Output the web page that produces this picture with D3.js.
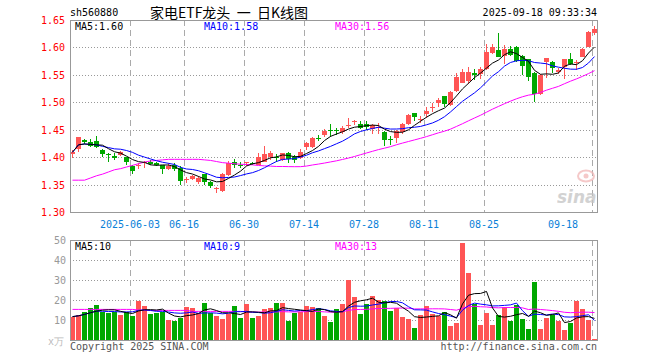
<!DOCTYPE html>
<html>
<head>
<meta charset="utf-8">
<script src="https://cdn.jsdelivr.net/npm/d3@7"></script>
<style>
  body { margin: 0; background: #fff; }
  text { font-family: "DejaVu Sans Mono", monospace; }
</style>
</head>
<body>
<div id="chart"></div>
<script>
// trading days shown on the chart
var dates = [
  "2025-05-19","2025-05-20","2025-05-21","2025-05-22","2025-05-23","2025-05-26","2025-05-27","2025-05-28","2025-05-29","2025-05-30",
  "2025-06-03","2025-06-04","2025-06-05","2025-06-06","2025-06-09","2025-06-10","2025-06-11","2025-06-12","2025-06-13","2025-06-16",
  "2025-06-17","2025-06-18","2025-06-19","2025-06-20","2025-06-23","2025-06-24","2025-06-25","2025-06-26","2025-06-27","2025-06-30",
  "2025-07-01","2025-07-02","2025-07-03","2025-07-04","2025-07-07","2025-07-08","2025-07-09","2025-07-10","2025-07-11","2025-07-14",
  "2025-07-15","2025-07-16","2025-07-17","2025-07-18","2025-07-21","2025-07-22","2025-07-23","2025-07-24","2025-07-25","2025-07-28",
  "2025-07-29","2025-07-30","2025-07-31","2025-08-01","2025-08-04","2025-08-05","2025-08-06","2025-08-07","2025-08-08","2025-08-11",
  "2025-08-12","2025-08-13","2025-08-14","2025-08-15","2025-08-18","2025-08-19","2025-08-20","2025-08-21","2025-08-22","2025-08-25",
  "2025-08-26","2025-08-27","2025-08-28","2025-08-29","2025-09-01","2025-09-02","2025-09-03","2025-09-04","2025-09-05","2025-09-08",
  "2025-09-09","2025-09-10","2025-09-11","2025-09-12","2025-09-15","2025-09-16","2025-09-17","2025-09-18"
];

var open = [
  1.406,1.414,1.432,1.428,1.430,1.413,1.406,1.402,1.404,1.400,
  1.384,1.383,1.389,1.392,1.390,1.385,1.378,1.386,1.381,1.359,
  1.360,1.355,1.369,1.355,1.342,1.339,1.367,1.391,1.386,1.389,
  1.390,1.386,1.392,1.401,1.401,1.395,1.407,1.401,1.398,1.418,
  1.419,1.435,1.440,1.449,1.449,1.446,1.458,1.464,1.460,1.460,
  1.451,1.454,1.446,1.433,1.434,1.445,1.460,1.480,1.467,1.479,
  1.491,1.498,1.511,1.495,1.521,1.535,1.538,1.554,1.551,1.560,
  1.590,1.595,1.584,1.598,1.601,1.584,1.578,1.553,1.515,1.574,
  1.574,1.556,1.565,1.578,1.572,1.583,1.601,1.626
];
var high = [
  1.413,1.437,1.433,1.433,1.439,1.414,1.407,1.407,1.411,1.401,
  1.385,1.389,1.393,1.394,1.391,1.386,1.389,1.389,1.383,1.364,
  1.368,1.366,1.370,1.356,1.346,1.371,1.393,1.396,1.392,1.392,
  1.392,1.407,1.420,1.412,1.406,1.408,1.410,1.403,1.414,1.428,
  1.436,1.440,1.452,1.460,1.454,1.456,1.471,1.468,1.465,1.465,
  1.460,1.463,1.447,1.439,1.449,1.462,1.479,1.481,1.475,1.491,
  1.498,1.507,1.512,1.521,1.553,1.560,1.564,1.560,1.565,1.606,
  1.606,1.626,1.604,1.603,1.603,1.586,1.579,1.555,1.551,1.581,
  1.575,1.562,1.579,1.589,1.577,1.599,1.630,1.639
];
var low = [
  1.398,1.410,1.424,1.419,1.416,1.400,1.392,1.394,1.402,1.386,
  1.370,1.378,1.380,1.385,1.383,1.369,1.377,1.375,1.350,1.353,
  1.358,1.351,1.350,1.344,1.334,1.337,1.366,1.381,1.380,1.383,
  1.386,1.385,1.391,1.395,1.392,1.393,1.390,1.390,1.396,1.413,
  1.417,1.430,1.437,1.437,1.440,1.442,1.453,1.459,1.452,1.450,
  1.443,1.442,1.420,1.422,1.426,1.443,1.459,1.466,1.462,1.471,
  1.483,1.492,1.491,1.493,1.519,1.536,1.533,1.541,1.542,1.559,
  1.588,1.582,1.570,1.584,1.574,1.550,1.539,1.500,1.513,1.544,
  1.553,1.551,1.542,1.568,1.559,1.582,1.600,1.623
];
var close = [
  1.409,1.436,1.427,1.421,1.419,1.406,1.404,1.399,1.409,1.391,
  1.375,1.385,1.392,1.387,1.386,1.379,1.384,1.378,1.357,1.361,
  1.366,1.362,1.355,1.348,1.344,1.369,1.390,1.386,1.383,1.391,
  1.389,1.401,1.406,1.407,1.399,1.407,1.396,1.395,1.410,1.425,
  1.434,1.434,1.448,1.448,1.447,1.454,1.459,1.465,1.454,1.455,
  1.459,1.455,1.432,1.432,1.448,1.460,1.477,1.473,1.469,1.485,
  1.492,1.504,1.497,1.519,1.546,1.556,1.555,1.549,1.560,1.592,
  1.601,1.583,1.598,1.586,1.576,1.566,1.547,1.516,1.550,1.580,
  1.562,1.559,1.578,1.570,1.574,1.598,1.629,1.633
];

// volume, in 万
var volume = [
  11.7,12.5,14.2,16.2,17.5,14.2,13.3,14.2,12.5,14.2,
  12.0,19.7,17.0,13.0,13.3,14.2,9.8,9.7,10.8,16.3,
  16.0,13.3,18.7,13.7,12.0,10.5,13.0,17.0,11.2,18.0,
  11.2,12.0,15.5,16.0,18.7,18.7,9.7,13.7,14.2,17.0,
  16.7,16.0,12.0,9.2,15.5,18.0,30.0,21.5,13.0,18.0,
  22.0,20.0,19.7,14.5,15.8,11.5,10.5,6.0,12.5,17.0,
  13.0,12.0,14.0,7.0,8.5,48.7,33.7,18.0,7.5,13.5,
  7.5,12.5,16.3,9.5,17.5,10.5,5.5,29.2,5.5,11.0,
  12.5,9.5,5.0,8.3,19.7,15.5,10.0,0.5
];

// MA30 for the first 29 days (window starts before the chart)
var ma30Head = [
  1.358,1.358,1.358,1.362,1.366,1.369,1.373,1.377,1.379,1.382,
  1.385,1.388,1.391,1.393,1.394,1.395,1.396,1.396,1.396,1.396,
  1.396,1.396,1.395,1.394,1.392,1.390,1.389,1.388,1.387
];
var volMa30Head = [
  15.3,15.3,15.3,15.3,15.3,15.3,15.3,15.3,15.3,15.3,
  15.3,15.0,14.8,14.8,14.8,14.8,14.8,14.8,14.8,14.8,
  14.3,14.3,14.3,14.3,14.3,14.3,14.3,14.3,14.3
];

var priceTicks = [1.30, 1.35, 1.40, 1.45, 1.50, 1.55, 1.60, 1.65];
var volTicks = [10, 20, 30, 40, 50];
var dateTicks = ["2025-06-03","2025-06-16","2025-06-30","2025-07-14","2025-07-28","2025-08-11","2025-08-25","2025-09-18"];
var dateTickLabels = ["2025-06-03","06-16","06-30","07-14","07-28","08-11","08-25","09-18"];

var RED = "#ff5555";
var GREEN = "#00a800";

//svg size
var svgWidth = 660;
var svgHeight = 360;

var left = 70, right = 598;
var priceTop = 20, priceBottom = 212;
var volTop = 240, volBottom = 340;

var svg = d3.select("#chart")
  .append("svg")
  .attr("width", svgWidth)
  .attr("height", svgHeight);

svg.append("rect").attr("width", svgWidth).attr("height", svgHeight).attr("fill", "#fff");

// scales
var xScale = d3.scaleBand().domain(dates).range([left, right]);
var yPrice = d3.scaleLinear().domain([1.30, 1.65]).range([priceBottom, priceTop]);
var yVol = d3.scaleLinear().domain([0, 50]).range([volBottom, volTop]);

var idx = d3.range(dates.length);

function movingAvg(values, n, head) {
  return values.map(function(v, i) {
    if (i < n - 1) return head ? head[i] : d3.mean(values.slice(0, i + 1));
    return d3.mean(values.slice(i - n + 1, i + 1));
  });
}

var ma5 = movingAvg(close, 5);
var ma10 = movingAvg(close, 10);
var ma30 = movingAvg(close, 30, ma30Head);
var vma5 = movingAvg(volume, 5);
var vma10 = movingAvg(volume, 10);
var vma30 = movingAvg(volume, 30, volMa30Head);

// horizontal dotted grid
svg.append("g").selectAll("line")
  .data(priceTicks.slice(1, -1))
  .enter().append("line")
  .attr("x1", left).attr("x2", right)
  .attr("y1", d => Math.round(yPrice(d)) + 0.5)
  .attr("y2", d => Math.round(yPrice(d)) + 0.5)
  .attr("stroke", "#999")
  .attr("stroke-dasharray", "1,2");

svg.append("g").selectAll("line")
  .data(volTicks.slice(0, -1))
  .enter().append("line")
  .attr("x1", left).attr("x2", right)
  .attr("y1", d => Math.round(yVol(d)) + 0.5)
  .attr("y2", d => Math.round(yVol(d)) + 0.5)
  .attr("stroke", "#999")
  .attr("stroke-dasharray", "1,2");

// vertical dashed grid at the labelled dates
[[priceTop, priceBottom], [volTop, volBottom]].forEach(function(r) {
  svg.append("g").selectAll("line")
    .data(dateTicks)
    .enter().append("line")
    .attr("x1", d => xScale(d) + 0.5).attr("x2", d => xScale(d) + 0.5)
    .attr("y1", r[0]).attr("y2", r[1])
    .attr("stroke", "#aaa")
    .attr("stroke-dasharray", "6,4");
});

// sina watermark
var mark = svg.append("g").attr("opacity", 0.75);
mark.append("ellipse").attr("cx", 586).attr("cy", 176).attr("rx", 8).attr("ry", 5.5)
  .attr("fill", "none").attr("stroke", "#f2b8b8").attr("stroke-width", 2);
mark.append("circle").attr("cx", 586).attr("cy", 176).attr("r", 2.5).attr("fill", "#f2b8b8");
mark.append("text").attr("x", 557).attr("y", 203)
  .style("font-family", "DejaVu Sans").style("font-style", "italic").style("font-weight", "bold")
  .style("font-size", "17px").attr("fill", "#c4c4c4").text("sina");

var bodyTop = i => Math.round(yPrice(Math.max(open[i], close[i])));
var bodyBottom = i => Math.round(yPrice(Math.min(open[i], close[i])));
var colour = i => close[i] >= open[i] ? RED : GREEN;

// candles
var candles = svg.append("g").attr("shape-rendering", "crispEdges");
candles.selectAll(".wick")
  .data(idx).enter().append("rect")
  .attr("class", "wick")
  .attr("x", i => xScale(dates[i]) + 2)
  .attr("y", i => Math.round(yPrice(high[i])))
  .attr("width", 1)
  .attr("height", i => Math.max(1, Math.round(yPrice(low[i])) - Math.round(yPrice(high[i]))))
  .attr("fill", colour);

candles.selectAll(".body")
  .data(idx).enter().append("rect")
  .attr("class", "body")
  .attr("x", i => xScale(dates[i]))
  .attr("y", bodyTop)
  .attr("width", 5)
  .attr("height", i => Math.max(1, bodyBottom(i) - bodyTop(i)))
  .attr("fill", colour);

// volume bars
svg.append("g").attr("shape-rendering", "crispEdges")
  .selectAll("rect")
  .data(idx).enter().append("rect")
  .attr("x", i => xScale(dates[i]))
  .attr("y", i => Math.round(yVol(volume[i])))
  .attr("width", 5)
  .attr("height", i => Math.max(1, volBottom - Math.round(yVol(volume[i]))))
  .attr("fill", colour);

// moving average lines
function drawLine(values, yScale, stroke) {
  var line = d3.line()
    .x(i => xScale(dates[i]) + 2.5)
    .y(i => yScale(values[i]));
  svg.append("path")
    .datum(idx)
    .attr("d", line)
    .attr("fill", "none")
    .attr("stroke", stroke)
    .attr("stroke-width", 1);
}
drawLine(ma30, yPrice, "#ff00ff");
drawLine(ma10, yPrice, "#0000ff");
drawLine(ma5, yPrice, "#000");
drawLine(vma30, yVol, "#ff00ff");
drawLine(vma10, yVol, "#0000ff");
drawLine(vma5, yVol, "#000");

// frames
svg.append("rect").attr("x", left + 0.5).attr("y", priceTop + 0.5)
  .attr("width", right - left - 1).attr("height", priceBottom - priceTop)
  .attr("fill", "none").attr("stroke", "#999");
svg.append("rect").attr("x", left + 0.5).attr("y", volTop + 0.5)
  .attr("width", right - left - 1).attr("height", volBottom - volTop)
  .attr("fill", "none").attr("stroke", "#999");

// price axis labels
svg.append("g").selectAll("text")
  .data(priceTicks).enter().append("text")
  .attr("x", 65)
  .attr("y", d => yPrice(d) + 4)
  .attr("text-anchor", "end")
  .attr("fill", "#ff0000")
  .style("font-size", "10px")
  .text(d => d.toFixed(2));

// volume axis labels
svg.append("g").selectAll("text")
  .data(volTicks).enter().append("text")
  .attr("x", 66)
  .attr("y", d => yVol(d) + 4)
  .attr("text-anchor", "end")
  .attr("fill", "#999")
  .style("font-size", "10px")
  .text(d => d);
svg.append("text").attr("x", 64).attr("y", 345).attr("text-anchor", "end")
  .attr("fill", "#bbb").style("font-size", "10px").text("x万");

// date labels
svg.append("g").selectAll("text")
  .data(dateTicks).enter().append("text")
  .attr("x", (d, i) => Math.min(xScale(d), 578 - dateTickLabels[i].length * 3))
  .attr("y", 228)
  .attr("text-anchor", "middle")
  .attr("fill", "#0a7fd8")
  .style("font-size", "10px")
  .text((d, i) => dateTickLabels[i]);

// header
svg.append("text").attr("x", 70).attr("y", 16).attr("fill", "#000")
  .style("font-size", "10px").text("sh560880");
svg.append("text").attr("x", 150).attr("y", 18).attr("fill", "#000")
  .style("font-family", "'Noto Sans CJK SC', sans-serif").style("font-size", "14px")
  .style("white-space", "pre")
  .text("家电ETF龙头  一  日K线图");
svg.append("text").attr("x", 597).attr("y", 16).attr("text-anchor", "end").attr("fill", "#000")
  .style("font-size", "10px").text("2025-09-18 09:33:34");

// legends
var last = dates.length - 1;
function legend(y, items) {
  items.forEach(function(it) {
    svg.append("text").attr("x", it[0]).attr("y", y).attr("fill", it[1])
      .style("font-size", "10px").text(it[2]);
  });
}
legend(30, [
  [75, "#000", "MA5:" + ma5[last].toFixed(2)],
  [204, "#0000ff", "MA10:" + ma10[last].toFixed(2)],
  [335, "#ff00ff", "MA30:" + ma30[last].toFixed(2)]
]);
legend(250, [
  [75, "#000", "MA5:" + Math.floor(vma5[last])],
  [204, "#0000ff", "MA10:" + Math.floor(vma10[last])],
  [335, "#ff00ff", "MA30:" + Math.floor(vma30[last])]
]);

// footer
svg.append("text").attr("x", 70).attr("y", 350).attr("fill", "#555")
  .style("font-size", "10px").text("Copyright 2025 SINA.COM");
svg.append("text").attr("x", 597).attr("y", 350).attr("text-anchor", "end").attr("fill", "#555")
  .style("font-size", "10px").text("http://finance.sina.com.cn");
</script>
</body>
</html>
